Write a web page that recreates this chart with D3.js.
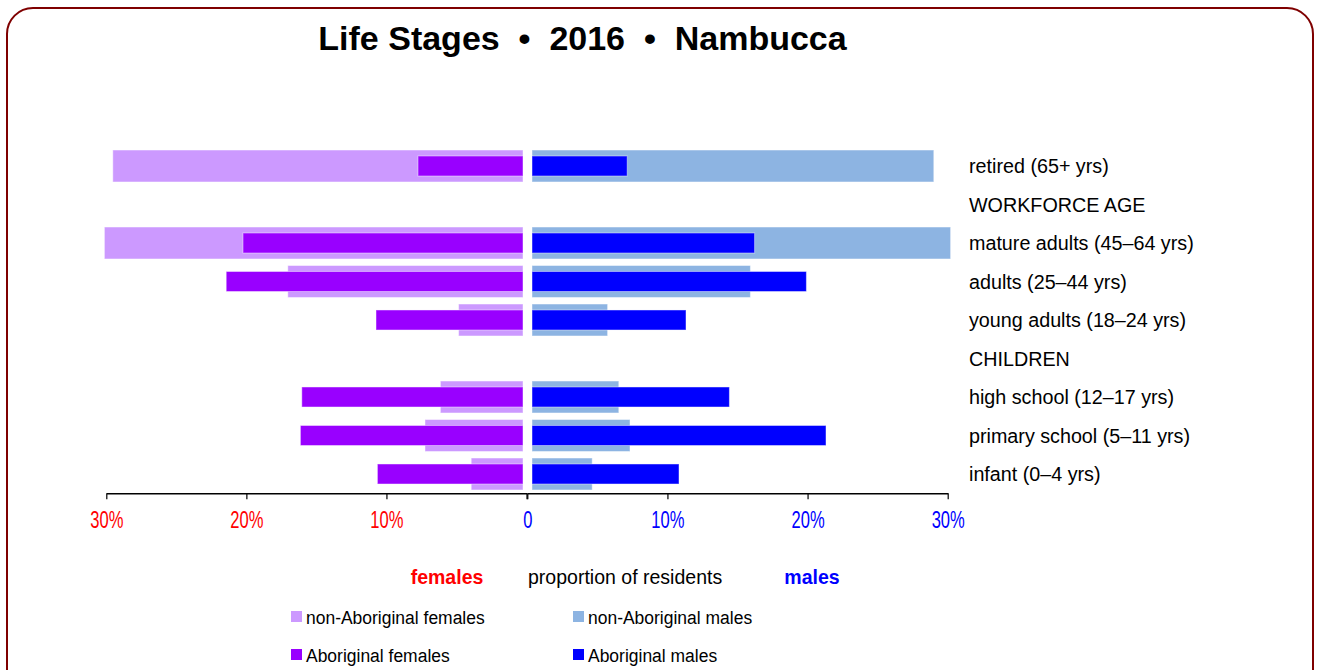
<!DOCTYPE html>
<html>
<head>
<meta charset="utf-8">
<script src="https://cdn.jsdelivr.net/npm/d3@7"></script>
<style>
  html, body { margin: 0; padding: 0; background: #fff; }
  svg { display: block; font-family: "Liberation Sans", Arial, sans-serif; }
</style>
</head>
<body>
<svg id="chart" width="1320" height="670"></svg>
<script>
// ---------- data ----------
const categories = [
  "retired (65+ yrs)",
  "WORKFORCE AGE",
  "mature adults (45–64 yrs)",
  "adults (25–44 yrs)",
  "young adults (18–24 yrs)",
  "CHILDREN",
  "high school (12–17 yrs)",
  "primary school (5–11 yrs)",
  "infant (0–4 yrs)"
];
const nonAboriginalFemales = [29.3, null, 29.9, 16.8, 4.6, null, 5.9, 7.0, 3.7];
const aboriginalFemales    = [7.5,  null, 20.0, 21.2, 10.5, null, 15.8, 15.9, 10.4];
const nonAboriginalMales   = [28.7, null, 29.9, 15.6, 5.4, null, 6.2, 7.0, 4.3];
const aboriginalMales      = [6.8,  null, 15.9, 19.6, 11.0, null, 14.1, 21.0, 10.5];
const tickValues = [0, 10, 20, 30];
const titleText = "Life Stages  •  2016  •  Nambucca";
const legendItems = [
  ["non-Aboriginal females", "#CC99FF"],
  ["non-Aboriginal males", "#8DB4E2"],
  ["Aboriginal females", "#9900FF"],
  ["Aboriginal males", "#0000FF"]
];

const colors = {
  nonAbF: "#CC99FF", abF: "#9900FF",
  nonAbM: "#8DB4E2", abM: "#0000FF",
  red: "#FF0000", blue: "#0000FF", frame: "#7F0000"
};

const svg = d3.select("#chart");

// frame
svg.append("rect")
  .attr("x", 7).attr("y", 8)
  .attr("width", 1306).attr("height", 700)
  .attr("rx", 26).attr("ry", 26)
  .attr("fill", "none").attr("stroke", colors.frame).attr("stroke-width", 2);

// title
svg.append("text")
  .attr("x", 582.5).attr("y", 50)
  .attr("text-anchor", "middle")
  .attr("font-size", 34).attr("font-weight", "bold")
  .attr("fill", "#000")
  .style("white-space", "pre")
  .text(titleText);

// helper for slightly condensed text
function ctext(x, yy, str, opts) {
  const g = svg.append("g").attr("transform", `translate(${x},${yy})`);
  const t = g.append("text")
    .attr("transform", `scale(${opts.sx || 0.93},1)`)
    .attr("text-anchor", opts.anchor || "start")
    .attr("font-size", opts.size || 21)
    .attr("font-weight", opts.weight || "normal")
    .attr("fill", opts.fill || "#000")
    .text(str);
  if (opts.dy) t.attr("dy", opts.dy);
  return g;
}

// ---------- scales ----------
const y = d3.scaleBand().domain(categories).range([146.75, 493.25]).padding(0);
const xF = d3.scaleLinear().domain([0, 30]).range([523, 103]);
const xM = d3.scaleLinear().domain([0, 30]).range([532, 952]);
const axF = d3.scaleLinear().domain([0, 30]).range([526.5, 106.3]);
const axM = d3.scaleLinear().domain([0, 30]).range([527.3, 947.7]);

const bw = y.bandwidth();
const wideH = bw * 0.83, narrowH = bw * 0.52;

function rows(values) {
  return categories.map((c, i) => ({ c, v: values[i] })).filter(d => d.v != null);
}

function drawBars(values, scale, h, color, side) {
  svg.append("g").selectAll("rect")
    .data(rows(values))
    .join("rect")
    .attr("x", d => side === "L" ? scale(d.v) : scale(0))
    .attr("width", d => Math.abs(scale(d.v) - scale(0)))
    .attr("y", d => y(d.c) + bw / 2 - h / 2)
    .attr("height", h)
    .attr("fill", color)
    .attr("stroke", "rgba(255,255,255,0.45)")
    .attr("stroke-width", 1);
}

drawBars(nonAboriginalFemales, xF, wideH, colors.nonAbF, "L");
drawBars(aboriginalFemales, xF, narrowH, colors.abF, "L");
drawBars(nonAboriginalMales, xM, wideH, colors.nonAbM, "R");
drawBars(aboriginalMales, xM, narrowH, colors.abM, "R");

// category labels
categories.forEach(c => ctext(969, y(c) + bw / 2 - 0.5, c, { size: 21, sx: 0.94, dy: "0.36em" }));

// ---------- axes ----------
const axisY = 493.3;
const gF = svg.append("g").attr("transform", `translate(0,${axisY})`)
  .call(d3.axisBottom(axF).tickValues(tickValues).tickSize(6).tickSizeOuter(0).tickPadding(12)
    .tickFormat(d => d === 0 ? "" : d + "%"));
const gM = svg.append("g").attr("transform", `translate(0,${axisY})`)
  .call(d3.axisBottom(axM).tickValues(tickValues).tickSize(6).tickSizeOuter(0).tickPadding(12)
    .tickFormat(d => d === 0 ? "0" : d + "%"));
[gF, gM].forEach((g, i) => {
  g.select(".domain").attr("stroke", "#000").attr("stroke-width", 1.5);
  g.selectAll(".tick line").attr("stroke", "#000").attr("stroke-width", 1.2);
  g.selectAll(".tick text")
    .attr("font-family", "Liberation Sans, Arial, sans-serif")
    .attr("font-size", 23)
    .attr("transform", "scale(0.72,1)")
    .attr("fill", i === 0 ? colors.red : colors.blue);
});

// axis captions
ctext(447, 584, "females", { size: 21, weight: "bold", fill: colors.red, anchor: "middle" });
ctext(528, 584, "proportion of residents", { size: 21 });
ctext(812, 584, "males", { size: 21, weight: "bold", fill: colors.blue, anchor: "middle" });

// legend
const legendX = [291, 573], legendY = [617, 655];
const lg = svg.append("g").selectAll("g")
  .data(legendItems)
  .join("g")
  .attr("transform", (d, i) => `translate(${legendX[i % 2]},${legendY[Math.floor(i / 2)]})`);
lg.append("rect").attr("x", 0).attr("y", -6).attr("width", 11).attr("height", 11)
  .attr("fill", d => d[1]);
lg.append("text").attr("x", 15).attr("y", 0).attr("dy", "0.36em")
  .attr("transform", "translate(15,0) scale(0.93,1) translate(-15,0)")
  .attr("font-size", 18.8).attr("fill", "#000").text(d => d[0]);
</script>
</body>
</html>
